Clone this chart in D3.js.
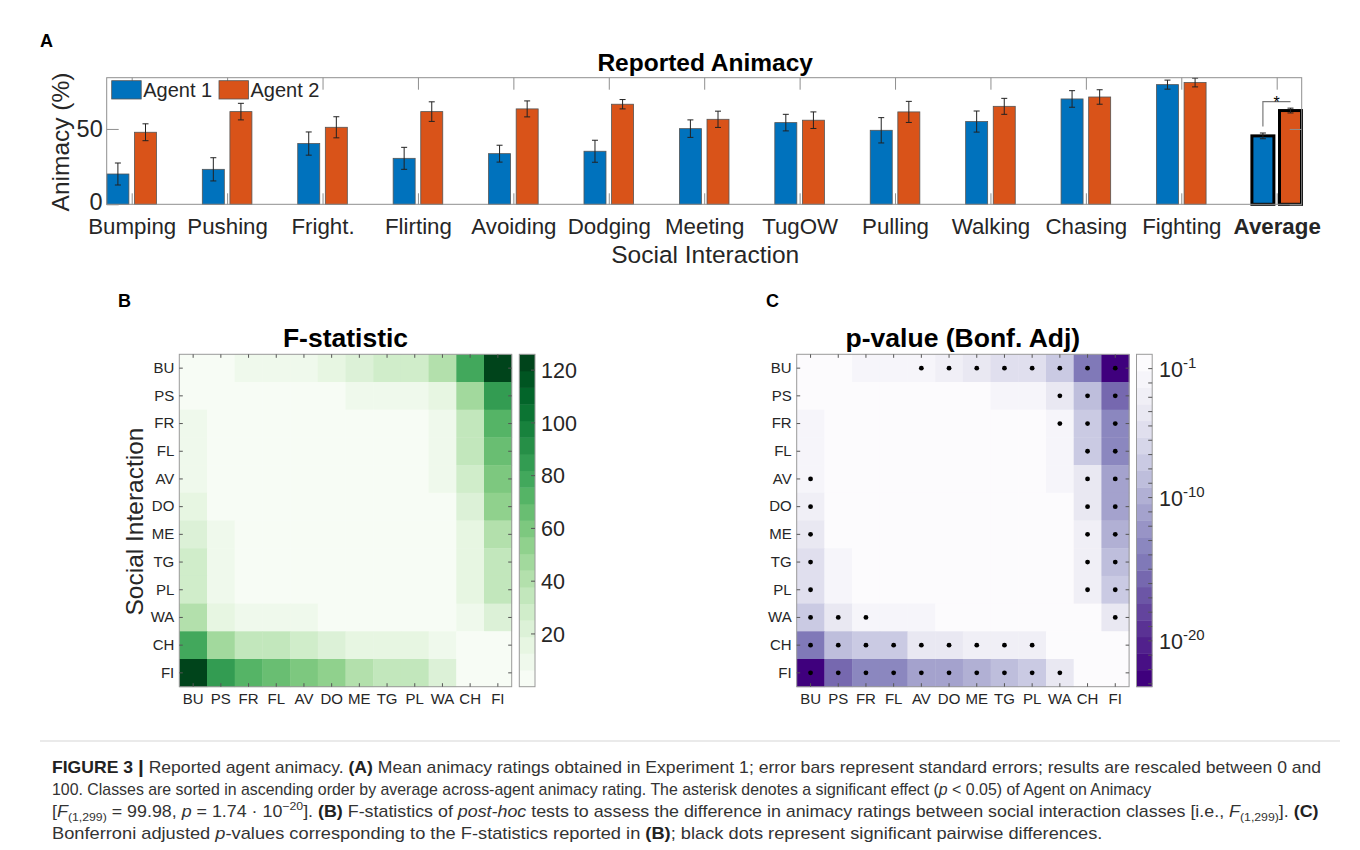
<!DOCTYPE html>
<html>
<head>
<meta charset="utf-8">
<script src="https://cdn.jsdelivr.net/npm/d3@7"></script>
<style>
  body { margin: 0; background: #fff; }
  svg { display: block; font-family: "Liberation Sans", Arial, sans-serif; }
</style>
</head>
<body>
<svg id="fig" width="1360" height="850"></svg>
<script>
// ---- panel A data ----
const categories = ["Bumping", "Pushing", "Fright.", "Flirting", "Avoiding", "Dodging",
  "Meeting", "TugOW", "Pulling", "Walking", "Chasing", "Fighting", "Average"];
const agent1 = [20.1, 23.2, 40.3, 30.5, 33.6, 35.2, 50.2, 54.2, 49.1, 54.9, 69.9, 79.4, 45.4];
const agent1Err = [7.3, 7.7, 7.7, 7.3, 5.6, 7.3, 5.8, 5.5, 8.4, 7.0, 5.5, 3.0, 1.9];
const agent2 = [47.8, 61.5, 51.1, 61.5, 63.3, 66.4, 56.4, 55.8, 61.3, 65.0, 71.2, 80.8, 62.2];
const agent2Err = [5.6, 5.5, 7.0, 6.5, 5.3, 3.1, 5.4, 5.5, 7.0, 5.3, 4.8, 2.9, 1.6];
const yTicks = [0, 50];

// ---- panels B / C data ----
const codes = ["BU", "PS", "FR", "FL", "AV", "DO", "ME", "TG", "PL", "WA", "CH", "FI"];
const fStat = [
  [0, 1.5, 10.5, 11, 12, 15, 21, 28, 28, 41, 78, 125],
  [1.5, 0, 1, 1, 1.5, 2, 8, 10, 10, 13, 47, 88],
  [10.5, 1, 0, 0.2, 0.5, 1, 3, 4, 3.5, 12, 34, 72],
  [11, 1, 0.2, 0, 0.3, 0.5, 2.5, 3.5, 3, 10, 34, 66],
  [12, 1.5, 0.5, 0.3, 0, 0.2, 1.5, 2.5, 2, 8, 27, 60],
  [15, 2, 1, 0.5, 0.2, 0, 1, 2, 1.5, 5, 22, 54],
  [21, 8, 3, 2.5, 1.5, 1, 0, 0.3, 0.1, 3, 18, 41],
  [28, 10, 4, 3.5, 2.5, 2, 0.3, 0, 0.1, 2, 17, 34],
  [28, 10, 3.5, 3, 2, 1.5, 0.1, 0.1, 0, 2, 17, 34],
  [41, 13, 12, 10, 8, 5, 3, 2, 2, 0, 8, 21],
  [78, 47, 34, 34, 27, 22, 18, 17, 17, 8, 0, 2],
  [125, 88, 72, 66, 60, 54, 41, 34, 34, 21, 2, 0]
];
// log10 of the Bonferroni adjusted p-values
const logP = [
  [0, -0.3, -1.2, -1.25, -2.0, -3.0, -4.0, -5.0, -5.0, -7.8, -14.5, -23.2],
  [-0.3, 0, 0, 0, 0, 0, -0.6, -1.2, -1.2, -4.2, -8.8, -16.0],
  [-1.2, 0, 0, 0, 0, 0, 0, 0, 0, -1.6, -7.6, -13.7],
  [-1.25, 0, 0, 0, 0, 0, 0, 0, 0, -1.2, -7.6, -13.5],
  [-2.0, 0, 0, 0, 0, 0, 0, 0, 0, -1.2, -4.6, -11.5],
  [-3.0, 0, 0, 0, 0, 0, 0, 0, 0, -0.4, -3.8, -11.2],
  [-4.0, -0.6, 0, 0, 0, 0, 0, 0, 0, -0.2, -3.0, -9.4],
  [-5.0, -1.2, 0, 0, 0, 0, 0, 0, 0, 0, -3.0, -8.2],
  [-5.0, -1.2, 0, 0, 0, 0, 0, 0, 0, 0, -3.0, -7.8],
  [-7.8, -4.2, -1.6, -1.2, -1.2, -0.4, -0.2, 0, 0, 0, -1.0, -4.0],
  [-14.5, -8.8, -7.6, -7.6, -4.6, -3.8, -3.0, -3.0, -3.0, -1.0, 0, -0.2],
  [-23.2, -16.0, -13.7, -13.5, -11.5, -11.2, -9.4, -8.2, -7.8, -4.0, -0.2, 0]
];
const fTicks = [20, 40, 60, 80, 100, 120];
const pTicks = [-1, -10, -20];
const pMinor = d3.range(-1, -24, -1);

const col = { blue: "#0072BD", orange: "#D95319", axis: "#8f8f8f", text: "#262626" };

const svg = d3.select("#fig");

// panel letters
[["A", 40, 47], ["B", 118, 307], ["C", 766, 307]].forEach(([t, x, yy]) => {
  svg.append("text").attr("x", x).attr("y", yy)
    .style("font-size", "18px").style("font-weight", "bold").text(t);
});

//////////////////////////////////////////////////////
// Panel A : bars
const A = { left: 106.7, right: 1301.7, top: 77.7, bottom: 204.3 };
const x = d3.scalePoint().domain(categories).range([A.left + 25, A.right - 25]);
const y = d3.scaleLinear().domain([0, 84]).range([A.bottom, A.top]);
const barW = 22, off = 13.8;

const gA = svg.append("g");

gA.append("text")
  .attr("x", (A.left + A.right) / 2 + 1).attr("y", 70.5)
  .attr("text-anchor", "middle")
  .style("font-size", "24.5px").style("font-weight", "bold")
  .text("Reported Animacy");

const series = [
  { vals: agent1, errs: agent1Err, color: col.blue, dx: -off },
  { vals: agent2, errs: agent2Err, color: col.orange, dx: off }
];

series.forEach((s) => {
  gA.selectAll(null)
    .data(categories)
    .enter()
    .append("rect")
    .attr("x", (d) => x(d) + s.dx - barW / 2)
    .attr("y", (d, i) => y(s.vals[i]))
    .attr("width", barW)
    .attr("height", (d, i) => y(0) - y(s.vals[i]))
    .attr("fill", s.color)
    .attr("stroke", (d) => (d === "Average" ? "#000" : "#555"))
    .attr("stroke-width", (d) => (d === "Average" ? 3 : 0.8));
});

// error bars
series.forEach((s) => {
  const eb = gA.selectAll(null).data(categories).enter().append("g")
    .attr("stroke", "#222").attr("stroke-width", 1);
  eb.append("line")
    .attr("x1", (d) => x(d) + s.dx).attr("x2", (d) => x(d) + s.dx)
    .attr("y1", (d, i) => y(s.vals[i] - s.errs[i]))
    .attr("y2", (d, i) => y(s.vals[i] + s.errs[i]));
  [-1, 1].forEach((sg) => {
    eb.append("line")
      .attr("x1", (d) => x(d) + s.dx - 3).attr("x2", (d) => x(d) + s.dx + 3)
      .attr("y1", (d, i) => y(s.vals[i] + sg * s.errs[i]))
      .attr("y2", (d, i) => y(s.vals[i] + sg * s.errs[i]));
  });
});

// significance bracket on the average bars
const iAvg = categories.length - 1;
const brTop = y(agent2[iAvg] + agent2Err[iAvg] + 4.3);
const brLeftBottom = y(agent1[iAvg] + agent1Err[iAvg] + 4.4);
gA.append("path")
  .attr("d", `M${x("Average") - off},${brLeftBottom}V${brTop}H${x("Average") + off}`)
  .attr("fill", "none").attr("stroke", "#7a7a7a").attr("stroke-width", 1.2);
gA.append("text")
  .attr("x", x("Average")).attr("y", brTop + 6.3)
  .attr("text-anchor", "middle").style("font-size", "16px").text("*");

// box + ticks
gA.append("rect")
  .attr("x", A.left).attr("y", A.top)
  .attr("width", A.right - A.left).attr("height", A.bottom - A.top)
  .attr("fill", "none").attr("stroke", col.axis).attr("stroke-width", 1);

function styleAxis(g) {
  g.select(".domain").remove();
  g.selectAll(".tick line").attr("stroke", col.axis);
  g.selectAll(".tick text").attr("fill", col.text);
}

gA.append("g").attr("transform", `translate(${A.left},0)`)
  .call(d3.axisLeft(y).tickValues(yTicks).tickSizeInner(-12).tickSizeOuter(0).tickPadding(4))
  .call(styleAxis)
  .call((g) => g.selectAll("text").style("font-size", "23.5px").attr("font-family", null)
    .attr("dy", (d) => (d === 0 ? "0.2em" : "0.32em")));
gA.append("g").attr("transform", `translate(${A.right},0)`)
  .call(d3.axisRight(y).tickValues(yTicks).tickSizeInner(-12).tickSizeOuter(0).tickFormat(""))
  .call(styleAxis);
gA.append("g").attr("transform", `translate(0,${A.bottom})`)
  .call(d3.axisBottom(x).tickSizeInner(-11).tickSizeOuter(0).tickPadding(13.5))
  .call(styleAxis)
  .call((g) => g.selectAll("text").style("font-size", "22.3px").attr("font-family", null)
    .style("font-weight", (d) => (d === "Average" ? "bold" : null)));
gA.append("g").attr("transform", `translate(0,${A.top})`)
  .call(d3.axisTop(x).tickSizeInner(-12).tickSizeOuter(0).tickFormat(""))
  .call(styleAxis);

gA.append("text")
  .attr("transform", `translate(69,${(A.top + A.bottom) / 2 + 1}) rotate(-90)`)
  .attr("text-anchor", "middle").attr("fill", col.text)
  .style("font-size", "24.5px").text("Animacy (%)");
gA.append("text")
  .attr("x", (A.left + A.right) / 2 + 1).attr("y", 262.5)
  .attr("text-anchor", "middle").attr("fill", col.text)
  .style("font-size", "24.5px").text("Social Interaction");

// legend
const legendItems = [
  { label: "Agent 1", color: col.blue, x: 111.7 },
  { label: "Agent 2", color: col.orange, x: 219 }
];
legendItems.forEach((it) => {
  gA.append("rect").attr("x", it.x).attr("y", 80.7).attr("width", 29.5).attr("height", 18.3)
    .attr("fill", it.color).attr("stroke", "#555").attr("stroke-width", 0.8);
  gA.append("text").attr("x", it.x + 31.5).attr("y", 97.3)
    .attr("fill", col.text).style("font-size", "20px").text(it.label);
});

//////////////////////////////////////////////////////
// Panels B and C : heatmaps
const H = { top: 354.3, size: 332.4 };
const nLevels = 20;

const greens = d3.range(nLevels).map((i) => d3.interpolateGreens(i / (nLevels - 1)));
const purples = d3.range(nLevels).map((i) => d3.interpolatePurples(i / (nLevels - 1)));
const fColor = d3.scaleQuantize().domain([0, 126]).range(greens);
const pColor = d3.scaleQuantize().domain([-23.2, 0]).range(purples.slice().reverse());

function drawHeatmap(x0, values, color, title, withDots) {
  const g = svg.append("g");
  const xs = d3.scaleBand().domain(codes).range([x0, x0 + H.size]);
  const ys = d3.scaleBand().domain(codes).range([H.top, H.top + H.size]);

  const cells = [];
  values.forEach((row, i) => row.forEach((v, j) => cells.push({ r: codes[i], c: codes[j], v })));

  g.selectAll("rect.cell").data(cells).enter().append("rect")
    .attr("class", "cell")
    .attr("x", (d) => xs(d.c)).attr("y", (d) => ys(d.r))
    .attr("width", xs.bandwidth() + 0.4).attr("height", ys.bandwidth() + 0.4)
    .attr("fill", (d) => color(d.v));

  if (withDots) {
    g.selectAll("circle").data(cells.filter((d) => d.r !== d.c && d.v < Math.log10(0.05)))
      .enter().append("circle")
      .attr("cx", (d) => xs(d.c) + xs.bandwidth() / 2)
      .attr("cy", (d) => ys(d.r) + ys.bandwidth() / 2)
      .attr("r", 2.4).attr("fill", "#000");
  }

  g.append("rect").attr("x", x0).attr("y", H.top).attr("width", H.size).attr("height", H.size)
    .attr("fill", "none").attr("stroke", "#9a9a9a");

  const tk = (g2) => {
    g2.select(".domain").remove();
    g2.selectAll(".tick line").attr("stroke", "#555");
    g2.selectAll(".tick text").attr("fill", col.text).attr("font-family", null).style("font-size", "15px");
  };
  g.append("g").attr("transform", `translate(${x0},0)`)
    .call(d3.axisLeft(ys).tickSizeInner(-3.5).tickSizeOuter(0).tickPadding(5)).call(tk);
  g.append("g").attr("transform", `translate(${x0 + H.size},0)`)
    .call(d3.axisRight(ys).tickSizeInner(-3.5).tickSizeOuter(0).tickFormat("")).call(tk);
  g.append("g").attr("transform", `translate(0,${H.top + H.size})`)
    .call(d3.axisBottom(xs).tickSizeInner(-3.5).tickSizeOuter(0).tickPadding(7)).call(tk);
  g.append("g").attr("transform", `translate(0,${H.top})`)
    .call(d3.axisTop(xs).tickSizeInner(-3.5).tickSizeOuter(0).tickFormat("")).call(tk);

  g.append("text").attr("x", x0 + H.size / 2).attr("y", 347)
    .attr("text-anchor", "middle").style("font-size", "26.5px").style("font-weight", "bold")
    .text(title);
  return g;
}

drawHeatmap(179.3, fStat, fColor, "F-statistic", false);
drawHeatmap(796.7, logP, pColor, "p-value (Bonf. Adj)", true);

svg.append("text")
  .attr("transform", `translate(143,${H.top + H.size / 2 + 1}) rotate(-90)`)
  .attr("text-anchor", "middle").attr("fill", col.text)
  .style("font-size", "24.5px").text("Social Interaction");

// colorbars
function drawColorbar(x0, domain, colors) {
  const g = svg.append("g");
  const cs = d3.scaleLinear().domain(domain).range([H.top + H.size, H.top]);
  const step = (domain[1] - domain[0]) / colors.length;
  g.selectAll("rect").data(colors).enter().append("rect")
    .attr("x", x0).attr("width", 15.7)
    .attr("y", (d, i) => cs(domain[0] + (i + 1) * step))
    .attr("height", (d, i) => cs(domain[0] + i * step) - cs(domain[0] + (i + 1) * step) + 0.4)
    .attr("fill", (d) => d);
  g.append("rect").attr("x", x0).attr("y", H.top).attr("width", 15.7).attr("height", H.size)
    .attr("fill", "none").attr("stroke", "#9a9a9a");
  return { g, cs };
}

const cbB = drawColorbar(519.3, [0, 126], greens);
fTicks.forEach((t) => {
  cbB.g.append("line").attr("x1", 519.3 + 15.7 - 4).attr("x2", 519.3 + 15.7)
    .attr("y1", cbB.cs(t)).attr("y2", cbB.cs(t)).attr("stroke", "#555");
  cbB.g.append("text").attr("x", 541).attr("y", cbB.cs(t)).attr("dy", "0.36em")
    .attr("fill", col.text).style("font-size", "21.5px").text(t);
});

const cbC = drawColorbar(1136.5, [-23.2, 0], purples.slice().reverse());
pMinor.forEach((t) => {
  cbC.g.append("line").attr("x1", 1136.5 + 15.7 - 4).attr("x2", 1136.5 + 15.7)
    .attr("y1", cbC.cs(t)).attr("y2", cbC.cs(t)).attr("stroke", "#555");
});
pTicks.forEach((t) => {
  const tx = cbC.g.append("text").attr("x", 1159).attr("y", cbC.cs(t) + 8)
    .attr("fill", col.text).style("font-size", "21.5px");
  tx.append("tspan").text("10");
  tx.append("tspan").attr("dy", -9).style("font-size", "15px").text(String(t));
});

//////////////////////////////////////////////////////
// caption
svg.append("line").attr("x1", 40).attr("x2", 1340).attr("y1", 741).attr("y2", 741)
  .attr("stroke", "#d5d5d5");

const captionLines = [
  { end: 1322, parts: [["FIGURE 3 ", "b"], ["|", "bar"], [" Reported agent animacy. "], ["(A)", "b"],
    [" Mean animacy ratings obtained in Experiment 1; error bars represent standard errors; results are rescaled between 0 and"]] },
  { end: 1152, parts: [["100. Classes are sorted in ascending order by average across-agent animacy rating. The asterisk denotes a significant effect ("],
    ["p", "i"], [" < 0.05) of Agent on Animacy"]] },
  { end: 1320, parts: [["["], ["F", "i"], ["(1,299)", "sub"], [" = 99.98, "], ["p", "i"], [" = 1.74 \u00b7 10"], ["\u221220", "sup"],
    ["]. "], ["(B)", "b"], [" F-statistics of "], ["post-hoc", "i"],
    [" tests to assess the difference in animacy ratings between social interaction classes [i.e., "],
    ["F", "i"], ["(1,299)", "sub"], ["]. "], ["(C)", "b"]] },
  { end: 1103, parts: [["Bonferroni adjusted "], ["p", "i"], ["-values corresponding to the F-statistics reported in "],
    ["(B)", "b"], ["; black dots represent significant pairwise differences."]] }
];

captionLines.forEach((ln, k) => {
  const t = svg.append("text")
    .attr("x", 0).attr("y", 0)
    .attr("fill", "#333").style("font-size", "16px");
  let shift = 0;
  ln.parts.forEach(([s, kind]) => {
    const sp = t.append("tspan").text(s);
    let want = 0;
    if (kind === "b") sp.style("font-weight", "bold").attr("fill", "#222");
    if (kind === "bar") sp.style("font-weight", "bold").style("font-size", "19px").attr("fill", "#222");
    if (kind === "i") sp.style("font-style", "italic");
    if (kind === "sub") { sp.style("font-size", "11px"); want = 4; }
    if (kind === "sup") { sp.style("font-size", "11px"); want = -7; }
    if (want !== shift) { sp.attr("dy", want - shift); shift = want; }
    else if (shift !== 0) { sp.attr("dy", -shift); shift = 0; }
  });
  // squeeze each line to the width it has in the figure
  const w = t.node().getComputedTextLength();
  t.attr("transform", `translate(52,${773 + k * 22}) scale(${(ln.end - 52) / w},1)`);
});
</script>
</body>
</html>
